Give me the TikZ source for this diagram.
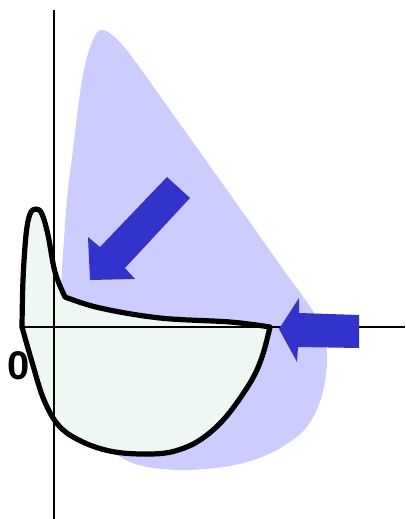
\documentclass[tikz,border=0pt]{standalone}
\usepackage{fontspec}
\setmainfont{Liberation Sans}
\definecolor{lavender}{HTML}{CCCCFF}
\definecolor{arrowblue}{HTML}{3333CC}
\definecolor{mint}{HTML}{EEF7F2}

\begin{document}
\begin{tikzpicture}[x=1pt,y=-1pt,
    axis/.style={line width=1.6pt,black},
    loopline/.style={line width=5.2pt,line join=round,black},
    bigarrow/.style={fill=arrowblue}]
    \useasboundingbox (0,0) rectangle (405,519);
    % lavender region
    \fill[lavender] plot[smooth cycle,tension=0.55] coordinates {(103,30) (125,48) (170,110) (227,190) (280,265) (317,318)
        (327,354) (322,395) (306,428) (275,451) (235,465) (180,470) (130,462) (90,430) (65,380) (60,320) (62,270)
        (67,200) (73,150) (82,80) (92,42)};
    % loop, filled
    \path[fill=mint] plot[smooth,tension=0.6] coordinates {(22,327) (23,280) (26,235) (30,214) (36,209) (42,214) (48,235) (55,272) (65,297)}
        -- plot[smooth,tension=0.6] coordinates {(65,297) (100,308) (160,318) (230,322) (270,327)}
        -- plot[smooth,tension=0.6] coordinates {(270,327) (262,357) (250,383) (225,418) (200,440) (175,451) (150,454) (115,452) (85,443) (60,427) (44,400) (32,362) (22,327)} -- cycle;
    % axes
    \draw[axis] (54,10) -- (54,519);
    \draw[axis] (22,327) -- (405,327);
    \node[font=\fontsize{40}{40}\selectfont\bfseries,inner sep=0pt] (zero) at (19,366) {0};
    % loop outline
    \draw[loopline] plot[smooth,tension=0.6] coordinates {(22,327) (23,280) (26,235) (30,214) (36,209) (42,214) (48,235) (55,272) (65,297)}
        -- plot[smooth,tension=0.6] coordinates {(65,297) (100,308) (160,318) (230,322) (270,327)}
        -- plot[smooth,tension=0.6] coordinates {(270,327) (262,357) (250,383) (225,418) (200,440) (175,451) (150,454) (115,452) (85,443) (60,427) (44,400) (32,362) (22,327)} -- cycle;
    % arrows
    \fill[bigarrow] (167,177) -- (190,198) -- (125,268) -- (135,279) -- (90,280) -- (88,237) -- (100,247) -- cycle;
    \fill[bigarrow] (359,315) -- (359,348) -- (298,347) -- (297,362) -- (279,329) -- (299,298) -- (299,313) -- cycle;
\end{tikzpicture}
\end{document}
